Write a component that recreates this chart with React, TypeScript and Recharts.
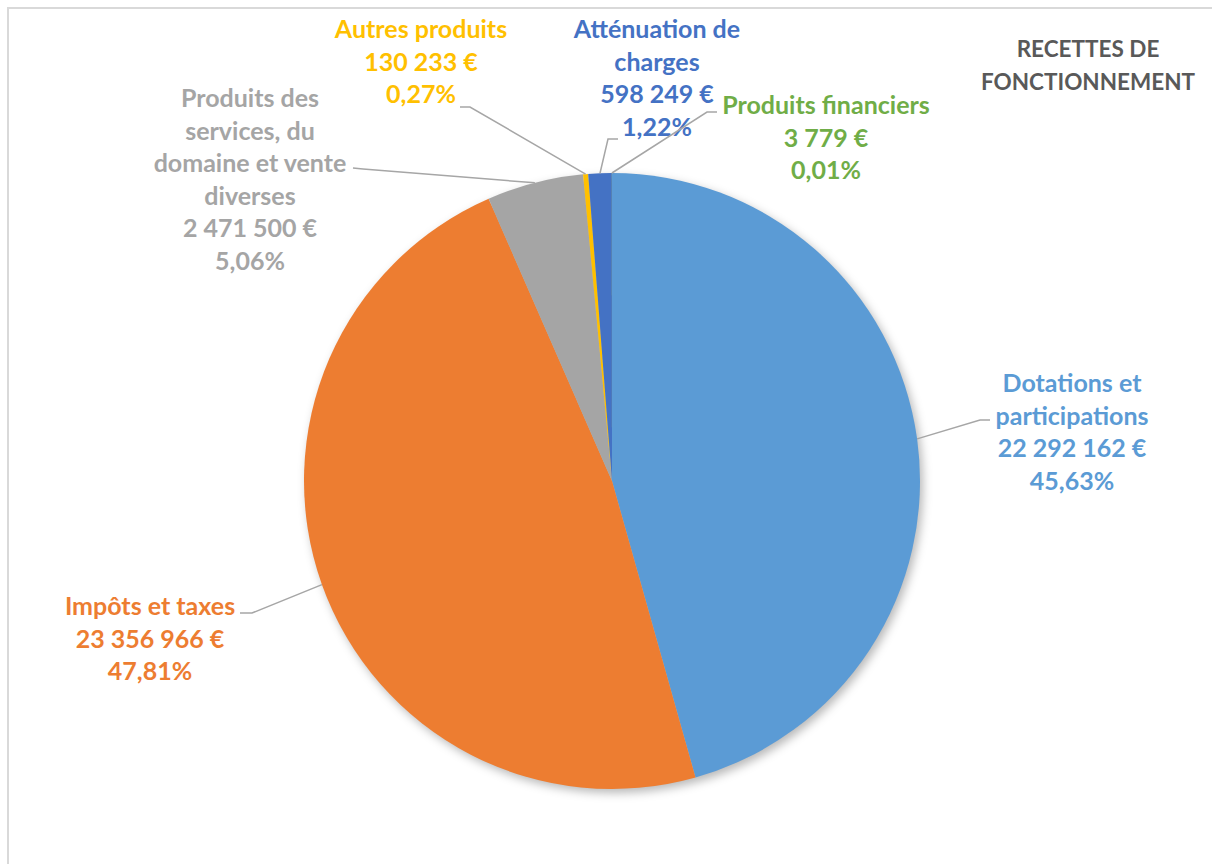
import { PieChart, Pie, Cell } from 'recharts';

const categories = [
  'Dotations et participations',
  'Impôts et taxes',
  'Produits des services, du domaine et vente diverses',
  'Autres produits',
  'Atténuation de charges',
  'Produits financiers',
];
const amounts = [22292162, 23356966, 2471500, 130233, 598249, 3779];
const nameLines = [
  ['Dotations et', 'participations'],
  ['Impôts et taxes'],
  ['Produits des', 'services, du', 'domaine et vente', 'diverses'],
  ['Autres produits'],
  ['Atténuation de', 'charges'],
  ['Produits financiers'],
];
const colors = ['#5B9BD5', '#ED7D31', '#A5A5A5', '#FFC000', '#4472C4', '#70AD47'];
const titleLines = ['RECETTES DE', 'FONCTIONNEMENT'];

const data = categories.map((name, i) => ({ name, value: amounts[i] }));

// where Excel's (moved) data labels sit: text centre, leader elbow, leader end
const labelLayout = [
  { x: 1072, y: 382, elbow: [980, 420], end: [990, 420] },
  { x: 150, y: 605, elbow: [252, 613], end: [240, 613] },
  { x: 250, y: 97, elbow: [363, 169], end: [353, 168] },
  { x: 421, y: 28, elbow: [470, 107], end: [460, 107] },
  { x: 657, y: 28, elbow: [608, 139], end: [618, 139] },
  { x: 826, y: 104, elbow: [707, 112], end: [717, 112] },
];

const RADIAN = Math.PI / 180;
const LINE_H = 32.5;
const FONT = 'Lato, "Open Sans", sans-serif';

const fmtEuro = (v: number) => String(v).replace(/\B(?=(\d{3})+(?!\d))/g, ' ') + ' €';
const fmtPct = (p: number) => (p * 100).toFixed(2).replace('.', ',') + '%';

function renderLabel(props: any) {
  const { cx, cy, midAngle, outerRadius, index, value, percent } = props;
  const lay = labelLayout[index];
  const ex = cx + outerRadius * Math.cos(-midAngle * RADIAN);
  const ey = cy + outerRadius * Math.sin(-midAngle * RADIAN);
  const lines = [...nameLines[index], fmtEuro(value), fmtPct(percent)];
  return (
    <g key={`lbl-${index}`}>
      <polyline
        points={`${ex},${ey} ${lay.elbow[0]},${lay.elbow[1]} ${lay.end[0]},${lay.end[1]}`}
        fill="none"
        stroke="#A6A6A6"
        strokeWidth={1.5}
      />
      <text
        x={lay.x}
        y={lay.y}
        textAnchor="middle"
        fill={colors[index]}
        fontFamily={FONT}
        fontWeight={700}
        fontSize={25}
      >
        {lines.map((l, i) => (
          <tspan key={i} x={lay.x} y={lay.y + i * LINE_H} dominantBaseline="central">
            {l}
          </tspan>
        ))}
      </text>
    </g>
  );
}

export default function App() {
  return (
    <div
      style={{
        position: 'absolute',
        left: 0,
        top: 0,
        width: 1212,
        height: 864,
        overflow: 'hidden',
        background: '#fff',
      }}
    >
      <style>{`.pie-shadow path { filter: blur(5px); }`}</style>
      <div
        style={{
          position: 'absolute',
          left: 7,
          top: 7,
          width: 1300,
          height: 1000,
          border: '2px solid #D9D9D9',
        }}
      />
      <div style={{ position: 'absolute', left: 0, top: 0 }}>
        <PieChart width={1212} height={864} margin={{ top: 0, right: 0, bottom: 0, left: 0 }}>
          <Pie
            className="pie-shadow"
            data={[{ name: 'shadow', value: 1 }]}
            dataKey="value"
            cx={615}
            cy={485}
            outerRadius={308}
            startAngle={90}
            endAngle={-270}
            stroke="none"
            fill="rgba(0,0,0,0.28)"
            isAnimationActive={false}
          />
          <Pie
            data={data}
            dataKey="value"
            nameKey="name"
            cx={612}
            cy={481}
            outerRadius={308}
            startAngle={90}
            endAngle={-270}
            stroke="none"
            label={renderLabel}
            labelLine={false}
            isAnimationActive={false}
          >
            {data.map((d, i) => (
              <Cell key={d.name} fill={colors[i]} />
            ))}
          </Pie>
          <text textAnchor="middle" fill="#595959" fontFamily={FONT} fontWeight={700} fontSize={22.5}>
            {titleLines.map((t, i) => (
              <tspan key={t} x={1088} y={48 + i * 33} dominantBaseline="central">
                {t}
              </tspan>
            ))}
          </text>
        </PieChart>
      </div>
    </div>
  );
}
